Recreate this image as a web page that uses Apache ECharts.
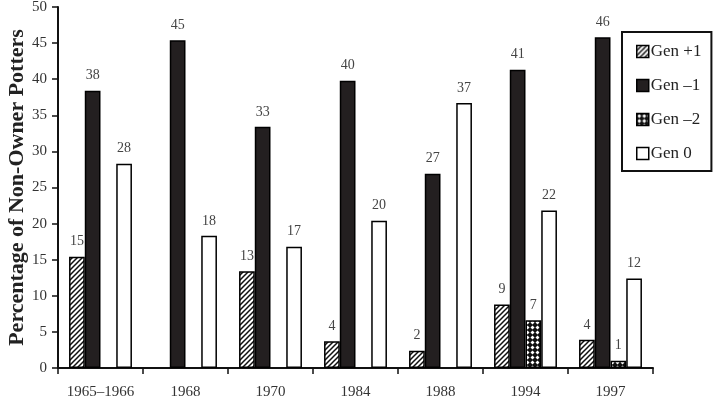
<!DOCTYPE html>
<html>
<head>
<meta charset="utf-8">
<script src="https://cdn.jsdelivr.net/npm/echarts@6/dist/echarts.min.js"></script>
<style>
  html, body { margin: 0; padding: 0; background: #fff; }
  #chart { width: 716px; height: 399px; }
</style>
</head>
<body>
<div id="chart"></div>
<script>
// data
const years = ['1965–1966', '1968', '1970', '1984', '1988', '1994', '1997'];
const genPlus1 = [15.4, null, 13.4, 3.7, 2.4, 8.8, 3.9];
const genMinus1 = [38.4, 45.4, 33.4, 39.8, 26.9, 41.3, 45.8];
const genMinus2 = [null, null, null, null, null, 6.6, 1.0];
const gen0 = [28.3, 18.3, 16.8, 20.4, 36.7, 21.8, 12.4];
const yTicks = [0, 50, 5];

const serif = 'Liberation Serif';

// hatch "/" for Gen +1
function hatch() {
  const c = document.createElement('canvas');
  c.width = 5; c.height = 5;
  const g = c.getContext('2d');
  g.fillStyle = '#fff';
  g.fillRect(0, 0, 5, 5);
  g.strokeStyle = '#111';
  g.lineWidth = 1.5;
  g.beginPath();
  g.moveTo(-1, 6); g.lineTo(6, -1);
  g.moveTo(-3, 3); g.lineTo(3, -3);
  g.moveTo(2, 8); g.lineTo(8, 2);
  g.stroke();
  return c;
}

// black with white dots for Gen -2
function dots() {
  const c = document.createElement('canvas');
  c.width = 5; c.height = 5;
  const g = c.getContext('2d');
  g.fillStyle = '#111';
  g.fillRect(0, 0, 5, 5);
  g.fillStyle = '#fff';
  g.beginPath();
  g.moveTo(2.5, 0.5); g.lineTo(4.5, 2.5); g.lineTo(2.5, 4.5); g.lineTo(0.5, 2.5);
  g.closePath();
  g.fill();
  return c;
}

const myChart = echarts.init(document.getElementById('chart'));

const label = {
  show: true,
  position: 'top',
  distance: 8,
  fontFamily: serif,
  fontSize: 14,
  color: '#444',
  formatter: p => Math.round(p.value)
};

function bar(name, data, fill) {
  return {
    name: name,
    type: 'bar',
    data: data,
    barGap: '0%',
    barCategoryGap: '26%',
    itemStyle: { color: fill, borderColor: '#000', borderWidth: 1.5 },
    label: label
  };
}

const option = {
  animation: false,
  grid: { left: 58, right: 63, top: 7, bottom: 31, outerBoundsMode: 'none', containLabel: false },
  legend: {
    orient: 'vertical',
    left: 622,
    top: 32,
    padding: [11, 10, 9, 14],
    itemGap: 17,
    itemWidth: 12,
    itemHeight: 12,
    borderColor: '#111',
    borderWidth: 2,
    backgroundColor: '#fff',
    icon: 'rect',
    itemStyle: { borderWidth: 1.5, borderColor: '#000' },
    textStyle: { fontFamily: serif, fontSize: 17, color: '#222', padding: [0, 0, 0, -3] },
    data: ['Gen +1', 'Gen –1', 'Gen –2', 'Gen 0']
  },
  xAxis: {
    type: 'category',
    data: years,
    axisLine: { lineStyle: { color: '#111', width: 2 } },
    axisTick: { show: true, length: 6, lineStyle: { color: '#111', width: 1.5 } },
    axisLabel: { interval: 0, fontFamily: serif, fontSize: 15, color: '#333', margin: 17 }
  },
  yAxis: {
    type: 'value',
    min: yTicks[0],
    max: yTicks[1],
    interval: yTicks[2],
    name: 'Percentage of Non-Owner Potters',
    nameLocation: 'middle',
    nameGap: 30,
    nameMoveOverlap: false,
    nameTextStyle: { fontFamily: serif, fontSize: 22, fontWeight: 'bold', color: '#222' },
    splitLine: { show: false },
    axisLine: { show: true, lineStyle: { color: '#111', width: 2 } },
    axisTick: { show: true, length: 6, lineStyle: { color: '#111', width: 1.5 } },
    axisLabel: { fontFamily: serif, fontSize: 15, color: '#333', margin: 11 }
  },
  series: [
    bar('Gen +1', genPlus1, { image: hatch(), repeat: 'repeat' }),
    bar('Gen –1', genMinus1, '#231f20'),
    bar('Gen –2', genMinus2, { image: dots(), repeat: 'repeat' }),
    bar('Gen 0', gen0, '#fff')
  ]
};

myChart.setOption(option);
</script>
</body>
</html>
